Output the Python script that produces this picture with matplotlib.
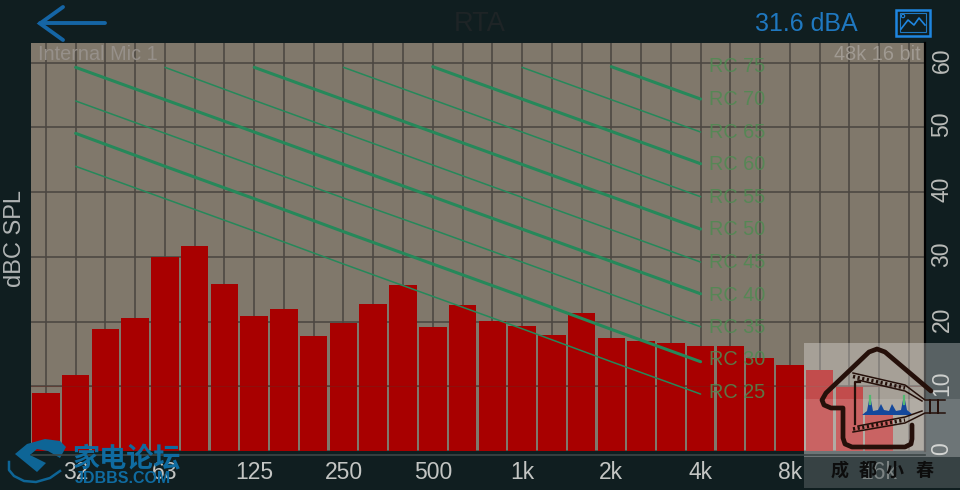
import matplotlib
matplotlib.use('Agg')
import matplotlib.pyplot as plt
import numpy as np
from matplotlib.patches import Polygon, Rectangle
from matplotlib.transforms import ScaledTranslation

plt.rcParams['font.family'] = ['Liberation Sans', 'Noto Sans CJK SC', 'DejaVu Sans']

# third octave bands, 25 Hz up to 20 kHz
bands = ['25', '32', '40', '50', '63', '80', '100', '125', '160', '200', '250', '315',
         '400', '500', '630', '800', '1k', '1.25k', '1.6k', '2k', '2.5k', '3.15k',
         '4k', '5k', '6.3k', '8k', '10k', '12.5k', '16k', '20k']
levels = [9.0, 11.8, 18.9, 20.6, 30.0, 31.7, 25.8, 20.9, 21.9, 17.8, 19.8, 22.7,
          25.7, 19.2, 22.5, 20.1, 19.3, 17.9, 21.3, 17.5, 17.0, 16.7,
          16.2, 16.2, 14.4, 13.3, 12.5, 9.9, 6.0, 0.0]

octave_labels = ['32', '63', '125', '250', '500', '1k', '2k', '4k', '8k', '16k']
octave_bands = ['32', '63', '125', '250', '500', '1k', '2k', '4k']
y_ticks = [0, 10, 20, 30, 40, 50, 60]

# RC curves, last points at 4k, cut off at the top of the scale
rc25 = [44.0, 39.0, 34.0, 28.9, 23.9, 18.9, 13.8, 8.8]
rc30 = [49.1, 44.0, 39.0, 33.9, 28.9, 23.9, 18.8, 13.8]
rc35 = [54.1, 49.1, 44.1, 39.1, 34.2, 29.2, 24.2, 19.2]
rc40 = [59.3, 54.3, 49.3, 44.3, 39.3, 34.3, 29.3, 24.3]
rc45 = [59.3, 54.2, 49.2, 44.2, 39.2, 34.2, 29.2]
rc50 = [59.3, 54.3, 49.3, 44.3, 39.3, 34.3]
rc55 = [59.3, 54.3, 49.3, 44.3, 39.3]
rc60 = [59.4, 54.4, 49.4, 44.4]
rc65 = [59.3, 54.3, 49.3]
rc70 = [59.4, 54.4]
rc_curves = [rc25, rc30, rc35, rc40, rc45, rc50, rc55, rc60, rc65, rc70]
rc_names = ['RC 25', 'RC 30', 'RC 35', 'RC 40', 'RC 45', 'RC 50', 'RC 55', 'RC 60',
            'RC 65', 'RC 70', 'RC 75']
rc_label_y = [9.0, 14.1, 19.1, 24.1, 29.2, 34.2, 39.2, 44.3, 49.3, 54.4, 59.4]

BG = '#101e20'
PLOT_BG = '#80786b'
GRID = '#4b4741'
RED = '#a80000'
GREEN = '#26885a'
BLUE = '#1f78c0'


def draw_chart(fig):
    ax = fig.add_axes([31 / 960, 1 - 451 / 490, 894 / 960, 408 / 490])
    ax.set_facecolor(PLOT_BG)
    x = np.arange(len(bands))
    ax.bar(x, levels, width=0.925, color=RED, zorder=2)

    oct_x = [bands.index(b) for b in octave_bands]
    for i, curve in enumerate(rc_curves):
        # every second curve is the heavy one
        lw = 2.2 if i % 2 == 1 else 1.1
        ax.plot(oct_x[-len(curve):], curve, color=GREEN, lw=lw, zorder=3,
                solid_capstyle='round')
    for name, ly in zip(rc_names, rc_label_y):
        ax.text(22.28, ly, name, color='#4f8a52', alpha=0.85, fontsize=14.3,
                va='center', ha='left', zorder=4)

    ax.set_xlim(-0.5, 29.54)
    ax.set_ylim(0, 63.06)
    ax.set_xticks(x, minor=True)
    ax.set_xticks(x[1::3][:len(octave_labels)], octave_labels)
    ax.set_yticks(y_ticks)
    ax.yaxis.tick_right()
    ax.tick_params(axis='x', which='both', length=0, labelsize=16.5, colors='#c3c5c3', pad=7)
    ax.tick_params(axis='y', length=0, labelsize=16.5, labelcolor='#b9bbb8', pad=4)
    up = ScaledTranslation(0, 2 / 72, fig.dpi_scale_trans)
    for label in ax.get_yticklabels():
        label.set_rotation(90)
        label.set_va('center')
        label.set_transform(label.get_transform() + up)
    ax.grid(True, which='both', color=GRID, lw=1.15, zorder=1)
    ax.set_axisbelow(True)
    ax.axhline(10, color='#6a2a20', lw=0.8, alpha=0.4, zorder=2.5)
    for side in ['top', 'left', 'bottom']:
        ax.spines[side].set_visible(False)
    ax.spines['right'].set_color('black')
    ax.spines['right'].set_linewidth(1.6)

    ax.text(0.008, 0.973, 'Internal Mic 1', transform=ax.transAxes, fontsize=14.3,
            color='#96908a', va='center', ha='left')
    ax.text(0.995, 0.973, '48k 16 bit', transform=ax.transAxes, fontsize=14.3,
            color='#a09a92', va='center', ha='right')


def draw_overlay(fig):
    # everything round the chart, in screen pixels
    ov = fig.add_axes([0, 0, 1, 1], zorder=5)
    ov.set_xlim(0, 960)
    ov.set_ylim(490, 0)
    ov.axis('off')
    ov.patch.set_alpha(0)

    ov.plot([32, 925], [455, 455], color='#3c4646', lw=1.2)
    ov.text(15, 238, 'dBC SPL', rotation=90, fontsize=17, color='#b0b4b4',
            ha='center', va='center')
    ov.text(480, 24, 'RTA', fontsize=19.5, color='#1e2426', ha='center', va='center')
    ov.text(806, 24, '31.6 dBA', fontsize=18, color=BLUE, ha='center', va='center')

    # back arrow
    ov.plot([105, 40], [23.5, 23.5], color='#1565a5', lw=2.8, solid_capstyle='round')
    ov.plot([63, 40, 63], [7, 23.5, 40], color='#1565a5', lw=2.8,
            solid_capstyle='round', solid_joinstyle='miter')

    # picture button
    ov.add_patch(Rectangle((896, 10), 34, 26, fill=False, ec='#1f86e0', lw=1.8))
    ov.add_patch(Rectangle((900, 13), 26, 19, fill=False, ec='#1f78c0', lw=0.8))
    ov.plot([901, 908, 914, 919, 925], [29, 20, 25, 18, 25], color='#1f86e0', lw=1.2)
    ov.add_patch(plt.Circle((903, 16), 1.7, fill=False, ec='#1f86e0', lw=0.8))

    draw_house(ov)
    draw_forum_logo(ov)


def draw_house(ov):
    ov.add_patch(Rectangle((804, 343), 156, 145, fc='white', alpha=0.30, ec='none'))
    ov.add_patch(Rectangle((804, 399), 156, 58, fc='white', alpha=0.13, ec='none'))
    ov.add_patch(Rectangle((804, 457), 156, 31, fc=BG, alpha=0.45, ec='none'))
    ink = '#25100a'
    ov.plot([931, 885, 877, 869, 826, 822, 824, 831, 843, 843, 845, 852, 905, 911, 912, 912],
            [391, 352, 349, 352, 393, 400, 405, 408, 408, 438, 444, 447, 447, 444, 439, 425],
            color=ink, lw=3.4, solid_joinstyle='round', solid_capstyle='round')

    # film strip, outer rails run through to the tail
    ov.plot([853, 905, 925, 945], [373, 385, 400, 400], color=ink, lw=1.1)
    ov.plot([853, 905, 925, 945], [432, 423, 413, 413], color=ink, lw=1.1)
    ov.plot([858, 905, 922], [380, 391, 401], color=ink, lw=1.1)
    ov.plot([858, 905, 922], [426, 417, 411], color=ink, lw=1.1)
    ov.plot([853, 905], [376.5, 388], color=ink, lw=2.6, linestyle=(0, (0.6, 0.7)))
    ov.plot([853, 905], [429, 420], color=ink, lw=2.6, linestyle=(0, (0.6, 0.7)))
    ov.plot([855, 855, 860], [424, 382, 382], color=ink, lw=1.6)
    for rung in [930, 938]:
        ov.plot([rung, rung], [400, 413], color=ink, lw=1.4)

    # small spectrum in the house
    ov.add_patch(Polygon([(862, 415), (867, 411), (870, 395), (873, 411), (878, 410), (881, 404),
                          (884, 410), (889, 411), (892, 404), (896, 411), (901, 410), (904, 395),
                          (907, 410), (913, 415)], fc='#14489c', ec='none'))
    ov.plot([870, 870], [396, 404], color='#52b870', lw=1.6)
    ov.plot([904, 904], [396, 404], color='#52b870', lw=1.6)

    for cx, ch in zip([840, 868, 895, 925], '成都小春'):
        ov.text(cx, 470, ch, fontsize=13, fontweight='bold', color='#0d0d0d',
                family=['Noto Sans CJK SC', 'DejaVu Sans'], ha='center', va='center')


def draw_forum_logo(ov):
    blue = '#0e6596'
    ov.add_patch(Polygon([(15, 454), (27, 444), (45, 439), (60, 441), (66, 447), (60, 458),
                          (48, 451), (37, 449), (30, 455), (46, 463), (37, 472)],
                         fc=blue, ec='none'))
    ov.plot([9, 9, 14, 24, 36, 50, 60], [462, 470, 476, 481, 482, 478, 471], color=blue, lw=1.8)
    ov.text(127, 459, '家电论坛', fontsize=19.5, fontweight='bold', color='#0f6ba0',
            family=['Noto Sans CJK SC', 'DejaVu Sans'], ha='center', va='center')
    ov.text(123, 478, 'JDBBS.COM', fontsize=11.5, fontweight='bold', color='#0f6ba0',
            ha='center', va='center')


def main():
    fig = plt.figure(figsize=(9.6, 4.9), dpi=100, facecolor=BG)
    draw_chart(fig)
    draw_overlay(fig)
    fig.savefig('out.png', dpi=100, facecolor=BG)


if __name__ == '__main__':
    main()
